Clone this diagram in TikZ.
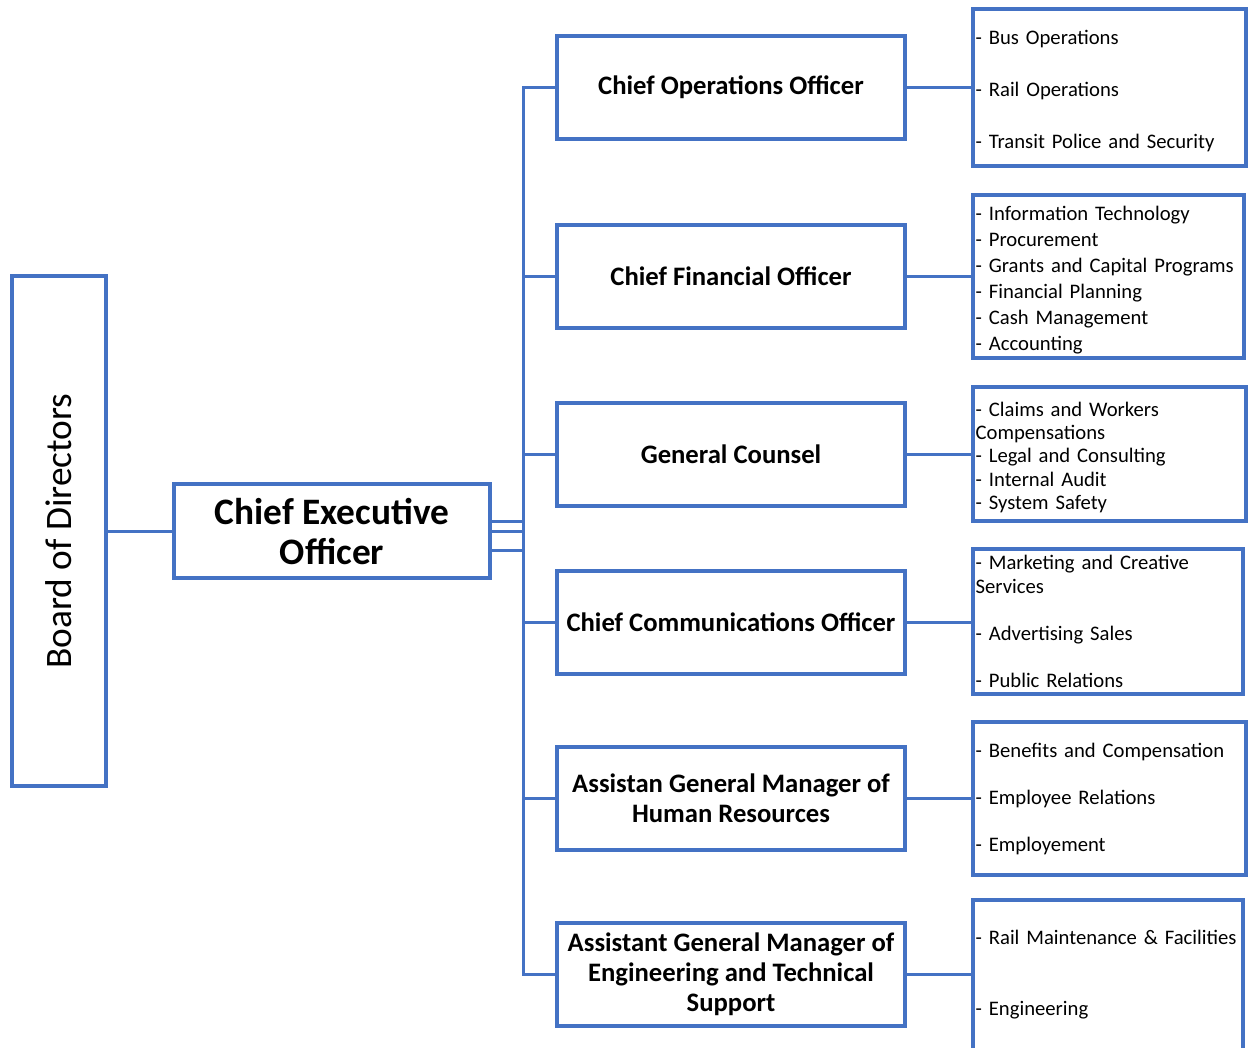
\documentclass[tikz,border=0pt]{standalone}
\usepackage{fontspec}
\setmainfont{Carlito}
\definecolor{bl}{HTML}{4472C4}
\begin{document}
\begin{tikzpicture}[x=0.75pt,y=-0.75pt,
 box/.style={draw=bl,line width=3pt,inner sep=0pt,align=center},
 mid/.style={box,minimum width=261pt,minimum height=77.25pt,font=\fontsize{20pt}{22.5pt}\bfseries\selectfont},
 sub/.style={draw=bl,line width=3pt,inner xsep=2pt,inner ysep=0pt,align=left,anchor=north west},
 lower/.style={execute at begin node={\rule{0pt}{1em}}},
 conn/.style={draw=bl,line width=2.25pt}]
\useasboundingbox (0,0) rectangle (1252,1047);
% board and CEO
\node[box,rotate=90,minimum width=382.5pt,minimum height=70.5pt,font=\fontsize{28pt}{30pt}\selectfont] (bod) at (59,531) {Board of Directors};
\node[box,minimum width=237pt,minimum height=70.5pt,font=\fontsize{28pt}{30pt}\bfseries\selectfont] (ceo) at (332,531) {Chief Executive\\Officer};
% middle level
\node[mid] (coo) at (731,87.5) {Chief Operations Officer};
\node[mid] (cfo) at (731,276.5) {Chief Financial Officer};
\node[mid] (gc) at (731,454.5) {General Counsel};
\node[mid] (cco) at (731,622) {Chief Communications Officer};
\node[mid] (hr) at (731,798.5) {Assistan General Manager of\\Human Resources};
\node[mid] (eng) at (731,974.5) {Assistant General Manager of\\Engineering and Technical\\Support};
% right level
\node[sub,lower,text width=201pt,minimum height=117.75pt,font=\fontsize{15.5pt}{39pt}\selectfont] (r1) at (971,7)
 {- Bus Operations\\- Rail Operations\\- Transit Police and Security};
\node[sub,lower,text width=199.5pt,minimum height=122.25pt,font=\fontsize{15.5pt}{19.5pt}\selectfont] (r2) at (971,193)
 {- Information Technology\\- Procurement\\- Grants and Capital Programs\\- Financial Planning\\- Cash Management\\- Accounting};
\node[sub,lower,text width=201pt,minimum height=100.5pt,font=\fontsize{15.5pt}{17.5pt}\selectfont] (r3) at (971,385)
 {- Claims and Workers\\Compensations\\- Legal and Consulting\\- Internal Audit\\- System Safety};
\node[sub,text width=198.75pt,minimum height=108.75pt,font=\fontsize{15.5pt}{18pt}\selectfont] (r4) at (971,547)
 {- Marketing and Creative\\Services\\[17.25pt]- Advertising Sales\\[17.25pt]- Public Relations};
\node[sub,text width=201pt,minimum height=114.75pt,font=\fontsize{15.5pt}{35.25pt}\selectfont] (r5) at (971,720)
 {- Benefits and Compensation\\- Employee Relations\\- Employement};
\node[sub,text width=198.75pt,minimum height=112.5pt,font=\fontsize{15.5pt}{53.25pt}\selectfont] (r6) at (971,898)
 {- Rail Maintenance \& Facilities\\- Engineering};
% connectors
\coordinate (tk) at (523,531);
\coordinate (ya) at (0,521);
\coordinate (yb) at (0,531);
\coordinate (yc) at (0,550);
\draw[conn] (bod.south) -- (ceo.west);
\draw[conn] (ceo.east |- ya) -- (tk |- ya) |- (coo.west);
\draw[conn] (ceo.east |- ya) -- (tk |- ya) |- (cfo.west);
\draw[conn] (ceo.east |- yb) -- (tk |- yb) |- (gc.west);
\draw[conn] (ceo.east |- yb) -- (tk |- yb) |- (cco.west);
\draw[conn] (ceo.east |- yc) -- (tk |- yc) |- (hr.west);
\draw[conn] (ceo.east |- yc) -- (tk |- yc) |- (eng.west);
\draw[conn] (coo.east) -- (coo.east -| r1.west);
\draw[conn] (cfo.east) -- (cfo.east -| r2.west);
\draw[conn] (gc.east) -- (gc.east -| r3.west);
\draw[conn] (cco.east) -- (cco.east -| r4.west);
\draw[conn] (hr.east) -- (hr.east -| r5.west);
\draw[conn] (eng.east) -- (eng.east -| r6.west);
\end{tikzpicture}
\end{document}
